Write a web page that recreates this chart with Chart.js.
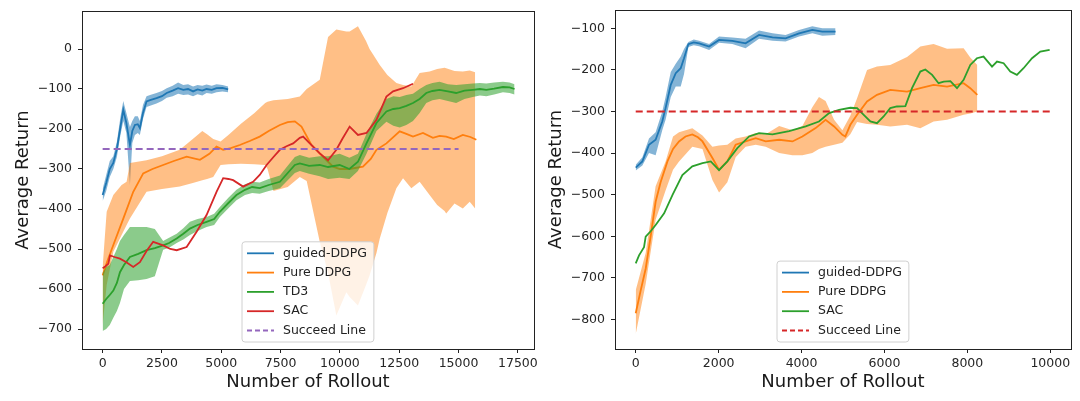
<!DOCTYPE html>
<html>
<head>
<meta charset="utf-8">
<script src="https://cdn.jsdelivr.net/npm/chart.js@4.4.0/dist/chart.umd.min.js"></script>
<style>
  body { margin: 0; background: #fff; }
  .wrap { position: absolute; top: 0; width: 540px; height: 401px; }
</style>
</head>
<body>
<div class="wrap" style="left:0"><canvas id="left-chart"></canvas></div>
<div class="wrap" style="left:540px"><canvas id="right-chart"></canvas></div>
<script>
// ---- Left panel data ----
const leftXTicks = [0, 2500, 5000, 7500, 10000, 12500, 15000, 17500];
const leftYTicks = [0, -100, -200, -300, -400, -500, -600, -700];
const leftLabels = ['guided-DDPG', 'Pure DDPG', 'TD3', 'SAC', 'Succeed Line'];

// guided-DDPG
const gLX  = [0,150,300,450,600,750,870,1000,1150,1250,1360,1480,1570,1700,1850,2000,2270,2500,2700,2950,3180,3400,3600,3810,4000,4200,4380,4600,4800,5050,5290];
const gLY  = [-365,-335,-300,-285,-250,-195,-152,-185,-240,-205,-190,-188,-198,-160,-131,-128,-123,-118,-110,-104,-98,-102,-100,-106,-101,-104,-100,-102,-98,-97,-101];
const gLLo = [-380,-355,-320,-300,-270,-215,-180,-210,-340,-235,-215,-210,-215,-175,-145,-142,-136,-130,-122,-118,-112,-115,-114,-118,-113,-116,-110,-112,-108,-106,-108];
const gLHi = [-350,-315,-280,-268,-232,-170,-130,-160,-195,-180,-168,-168,-180,-140,-118,-115,-110,-105,-98,-92,-84,-90,-88,-94,-90,-92,-89,-92,-88,-90,-94];

// Pure DDPG
const pLX = [0,200,450,870,1290,1710,2100,2550,3000,3540,4100,4500,4800,5080,5400,5780,6200,6620,7000,7470,7800,8100,8380,8800,9300,9710,10000,10400,10970,11300,11540,11960,12520,12800,13080,13500,13920,14200,14480,14800,15180,15500,15750];
const pLY = [-566,-530,-490,-424,-357,-311,-300,-290,-280,-269,-277,-262,-244,-252,-248,-240,-230,-219,-205,-190,-183,-181,-194,-240,-270,-294,-300,-300,-294,-275,-252,-236,-206,-212,-219,-210,-222,-217,-219,-225,-215,-220,-227];
const pbLX  = [0,170,450,800,1010,1150,1850,2500,3250,3800,4200,4400,4660,4970,5300,5830,6400,6850,6950,7200,7800,8310,8600,9150,9500,9850,10270,10410,10760,11100,11250,11540,11680,12000,12380,12660,13010,13360,13780,14100,14410,14480,14830,15180,15470,15700];
const pbLLo = [-690,-590,-507,-465,-440,-424,-357,-350,-344,-335,-328,-325,-320,-290,-288,-287,-288,-290,-300,-355,-345,-320,-330,-482,-560,-666,-608,-620,-641,-590,-566,-510,-474,-410,-348,-323,-348,-332,-365,-390,-405,-411,-386,-399,-382,-399];
const pbLHi = [-545,-407,-365,-340,-332,-285,-278,-268,-252,-225,-205,-213,-225,-231,-215,-187,-160,-135,-132,-128,-125,-119,-100,-77,30,49,44,44,57,20,0,-27,-40,-65,-85,-90,-94,-60,-56,-50,-47,-48,-55,-56,-54,-58];

// TD3
const tLX  = [0,150,300,450,600,730,900,1150,1500,1850,2200,2550,2800,3120,3400,3680,4000,4380,4700,4940,5300,5640,6000,6300,6620,7000,7470,7800,8100,8310,8700,9150,9500,9990,10400,10760,11120,11540,11960,12250,12520,12800,13080,13360,13640,13900,14200,14550,14900,15250,15600,15900,16170,16500,16870,17150,17360];
const tLY  = [-637,-625,-615,-604,-585,-558,-540,-520,-512,-503,-498,-491,-485,-474,-462,-449,-440,-432,-425,-407,-385,-365,-352,-345,-348,-340,-332,-310,-290,-286,-292,-290,-295,-290,-300,-282,-236,-185,-156,-150,-148,-142,-135,-125,-110,-105,-102,-106,-110,-104,-102,-100,-102,-99,-95,-96,-100];
const tLLo = [-705,-700,-690,-672,-655,-635,-600,-580,-578,-575,-568,-502,-497,-485,-476,-465,-455,-445,-440,-420,-398,-378,-365,-360,-362,-355,-348,-328,-310,-305,-312,-318,-325,-322,-325,-305,-262,-205,-182,-192,-196,-190,-180,-160,-135,-128,-125,-130,-135,-125,-120,-116,-118,-114,-108,-110,-114];
const tLHi = [-560,-545,-540,-520,-500,-480,-465,-445,-445,-445,-450,-480,-472,-462,-448,-432,-425,-420,-412,-395,-372,-352,-338,-332,-334,-325,-316,-292,-270,-265,-272,-268,-268,-262,-272,-262,-212,-162,-125,-118,-120,-115,-112,-100,-90,-85,-82,-88,-90,-88,-86,-85,-86,-84,-82,-84,-88];

// SAC
const sLX = [0,120,240,310,500,730,1000,1290,1570,1850,2130,2550,2850,3120,3540,3960,4380,4800,5080,5300,5500,5920,6340,6620,6910,7200,7470,7750,8030,8310,8450,8730,9150,9500,9850,10100,10410,10760,11120,11540,11960,12240,12660,13080];
const sLY = [-548,-543,-537,-516,-520,-524,-533,-545,-533,-505,-482,-491,-500,-503,-495,-457,-415,-357,-323,-325,-328,-344,-332,-315,-290,-270,-252,-243,-236,-222,-219,-236,-261,-278,-252,-225,-194,-215,-210,-177,-119,-106,-98,-87];

// Succeed line
const lineLX = [0, 15000];
const lineLY = [-250, -250];

// ---- Right panel data ----
const rightXTicks = [0, 2000, 4000, 6000, 8000, 10000];
const rightYTicks = [-100, -200, -300, -400, -500, -600, -700, -800];
const rightLabels = ['guided-DDPG', 'Pure DDPG', 'SAC', 'Succeed Line'];

const gRX  = [0,160,320,480,640,720,845,965,1085,1165,1270,1400,1530,1770,2010,2330,2650,2975,3300,3615,3940,4260,4500,4820];
const gRY  = [-435,-420,-380,-368,-324,-292,-236,-208,-196,-172,-138,-134,-136,-144,-128,-130,-136,-116,-122,-124,-112,-104,-108,-108];
const gRLo = [-442,-430,-400,-405,-345,-320,-265,-240,-240,-210,-145,-141,-143,-152,-135,-138,-148,-125,-130,-132,-120,-112,-118,-116];
const gRHi = [-428,-410,-365,-350,-300,-265,-205,-185,-168,-150,-133,-127,-130,-138,-120,-122,-125,-105,-112,-116,-104,-95,-100,-100];

const pRX = [0,120,240,360,480,600,765,900,1045,1200,1365,1500,1610,1850,2010,2210,2410,2650,2895,3135,3460,3780,4020,4340,4580,4785,4985,5057,5177,5340,5580,5820,6140,6545,6865,7185,7510,7910,8070,8240];
const pRY = [-785,-730,-678,-600,-517,-470,-420,-390,-372,-360,-355,-362,-372,-412,-440,-420,-380,-372,-364,-372,-368,-372,-360,-340,-320,-336,-356,-360,-332,-308,-276,-260,-248,-252,-244,-236,-240,-232,-244,-260];
const pbRX  = [0,240,480,720,900,1045,1365,1610,1850,2010,2210,2410,2650,2895,3135,3460,3780,4020,4260,4420,4580,4785,4985,5177,5340,5580,5820,6140,6545,6865,7185,7510,7910,8070,8240];
const pbRLo = [-835,-715,-560,-490,-440,-420,-385,-390,-465,-495,-470,-410,-385,-380,-385,-400,-405,-405,-400,-390,-385,-380,-375,-355,-325,-330,-332,-336,-332,-340,-324,-320,-308,-305,-300];
const pbRHi = [-730,-640,-480,-420,-360,-350,-340,-358,-385,-382,-380,-365,-360,-352,-355,-335,-345,-335,-290,-265,-275,-320,-345,-310,-268,-200,-192,-188,-169,-144,-138,-149,-148,-170,-188];

const sRX = [0,80,200,240,360,480,685,885,1125,1365,1610,1810,2010,2210,2450,2735,2975,3300,3700,4100,4420,4665,4905,5177,5340,5500,5660,5820,5980,6140,6300,6505,6665,6865,6985,7150,7305,7430,7590,7750,7910,8070,8230,8390,8595,8715,8875,9035,9195,9355,9560,9760,9985];
const sRY = [-665,-646,-626,-601,-588,-573,-545,-501,-453,-432,-424,-420,-441,-420,-388,-360,-352,-355,-347,-336,-324,-304,-296,-291,-292,-308,-324,-328,-312,-292,-288,-287,-244,-204,-199,-212,-232,-228,-227,-244,-224,-188,-172,-168,-192,-180,-184,-204,-212,-196,-172,-156,-152];

const lineRX = [0, 10000];
const lineRY = [-300, -300];

// ---- helpers ----
const FONT = 'DejaVu Sans';
const BLUE = '#1f77b4', ORANGE = '#ff7f0e', GREEN = '#2ca02c', RED = '#d62728', PURPLE = '#9467bd';

function pts(xs, ys) { return xs.map((x, i) => ({ x: x, y: ys[i] })); }
function fmt(v) { return v < 0 ? '\u2212' + Math.abs(v) : String(v); }

function line(xs, ys, color, order, dash) {
  return {
    data: pts(xs, ys), borderColor: color, borderWidth: dash ? 2 : 1.8,
    borderDash: dash || [], pointRadius: 0, fill: false, tension: 0, order: order
  };
}
// upper edge fills down to the lower edge (next dataset)
function band(xs, lo, hi, color, order) {
  return [
    { data: pts(xs, hi), borderColor: 'transparent', borderWidth: 0, pointRadius: 0, backgroundColor: color, fill: '+1', tension: 0, order: order },
    { data: pts(xs, lo), borderColor: 'transparent', borderWidth: 0, pointRadius: 0, fill: false, tension: 0, order: order }
  ];
}

// frame on all four sides + matplotlib-like legend box
const framePlugin = {
  id: 'frame',
  afterDatasetsDraw(chart, args, opts) {
    const ctx = chart.ctx, a = chart.chartArea;
    ctx.save();
    ctx.strokeStyle = '#222';
    ctx.lineWidth = 1;
    ctx.strokeRect(Math.round(a.left) + 0.5, Math.round(a.top) + 0.5, Math.round(a.right - a.left), Math.round(a.bottom - a.top));

    const items = opts.items;
    ctx.font = '12.5px "' + FONT + '"';
    const w = 41 + Math.max(...items.map(it => ctx.measureText(it.text).width)) + 7;
    const h = (items.length - 1) * 19.3 + 23;
    const x0 = a.left + opts.dx, y0 = a.bottom - opts.dy - h;
    ctx.beginPath();
    ctx.roundRect(x0, y0, w, h, 3);
    ctx.fillStyle = 'rgba(255,255,255,0.8)';
    ctx.fill();
    ctx.strokeStyle = '#d0d0d0';
    ctx.stroke();
    items.forEach((it, i) => {
      const y = y0 + 11.5 + i * 19.3;
      ctx.beginPath();
      ctx.setLineDash(it.dash || []);
      ctx.strokeStyle = it.color;
      ctx.lineWidth = it.dash ? 2 : 1.8;
      ctx.moveTo(x0 + 5, y);
      ctx.lineTo(x0 + 32, y);
      ctx.stroke();
      ctx.setLineDash([]);
      ctx.fillStyle = '#222';
      ctx.textBaseline = 'middle';
      ctx.fillText(it.text, x0 + 41, y);
    });
    ctx.restore();
  }
};

function makeChart(id, datasets, s) {
  return new Chart(document.getElementById(id), {
    type: 'line',
    data: { datasets: datasets },
    plugins: [framePlugin],
    options: {
      animation: false,
      responsive: true,
      maintainAspectRatio: false,
      events: [],
      layout: { autoPadding: false, padding: { top: s.padTop, right: s.padRight, left: 0, bottom: 0 } },
      plugins: {
        legend: { display: false },
        tooltip: { enabled: false },
        frame: { items: s.items, dx: s.legendDx, dy: 7 }
      },
      scales: {
        x: {
          type: 'linear', bounds: 'data', min: s.xMin, max: s.xMax,
          afterBuildTicks: sc => { sc.ticks = s.xTicks.map(v => ({ value: v })); },
          afterFit: sc => { sc.height = 52; sc.paddingLeft = 0; sc.paddingRight = 0; },
          border: { display: false },
          grid: { drawOnChartArea: false, drawTicks: true, tickLength: 4, color: '#222' },
          ticks: { color: '#262626', font: { family: FONT, size: 12.5 }, padding: 3, maxRotation: 0, autoSkip: false, callback: fmt },
          title: { display: true, text: 'Number of Rollout', color: '#1a1a1a', font: { family: FONT, size: 18 }, padding: { top: 0, bottom: 8 } }
        },
        y: {
          type: 'linear', bounds: 'data', min: s.yMin, max: s.yMax,
          afterBuildTicks: sc => { sc.ticks = s.yTicks.map(v => ({ value: v })); },
          afterFit: sc => { sc.width = s.yWidth; sc.paddingTop = 0; sc.paddingBottom = 0; },
          border: { display: false },
          grid: { drawOnChartArea: false, drawTicks: true, tickLength: 4, color: '#222' },
          ticks: { color: '#262626', font: { family: FONT, size: 12.5 }, padding: 6, autoSkip: false, callback: fmt },
          title: { display: true, text: 'Average Return', color: '#1a1a1a', font: { family: FONT, size: 18 }, padding: { top: s.titlePad, bottom: 0 } }
        }
      }
    }
  });
}

// ---- left chart ----
makeChart('left-chart', [
  ...band(gLX, gLLo, gLHi, 'rgba(31,119,180,0.55)', 9),
  line(gLX, gLY, BLUE, 8),
  ...band(pbLX, pbLLo, pbLHi, 'rgba(255,127,14,0.5)', 7),
  line(pLX, pLY, ORANGE, 6),
  ...band(tLX, tLLo, tLHi, 'rgba(44,160,44,0.55)', 5),
  line(tLX, tLY, GREEN, 4),
  line(sLX, sLY, RED, 3),
  line(lineLX, lineLY, PURPLE, 2, [7, 4])
], {
  xMin: -870, xMax: 18180, yMin: -750, yMax: 95,
  xTicks: leftXTicks, yTicks: leftYTicks,
  padTop: 11, padRight: 6, yWidth: 82, titlePad: 13, legendDx: 160,
  items: [
    { text: leftLabels[0], color: BLUE },
    { text: leftLabels[1], color: ORANGE },
    { text: leftLabels[2], color: GREEN },
    { text: leftLabels[3], color: RED },
    { text: leftLabels[4], color: PURPLE, dash: [5, 3] }
  ]
});

// ---- right chart ----
makeChart('right-chart', [
  ...band(gRX, gRLo, gRHi, 'rgba(31,119,180,0.55)', 9),
  line(gRX, gRY, BLUE, 8),
  ...band(pbRX, pbRLo, pbRHi, 'rgba(255,127,14,0.5)', 7),
  line(pRX, pRY, ORANGE, 6),
  line(sRX, sRY, GREEN, 4),
  line(lineRX, lineRY, RED, 3, [7, 4])
], {
  xMin: -500, xMax: 10500, yMin: -871, yMax: -56,
  xTicks: rightXTicks, yTicks: rightYTicks,
  padTop: 10, padRight: 9, yWidth: 75, titlePad: 6, legendDx: 162,
  items: [
    { text: rightLabels[0], color: BLUE },
    { text: rightLabels[1], color: ORANGE },
    { text: rightLabels[2], color: GREEN },
    { text: rightLabels[3], color: RED, dash: [5, 3] }
  ]
});
</script>
</body>
</html>
